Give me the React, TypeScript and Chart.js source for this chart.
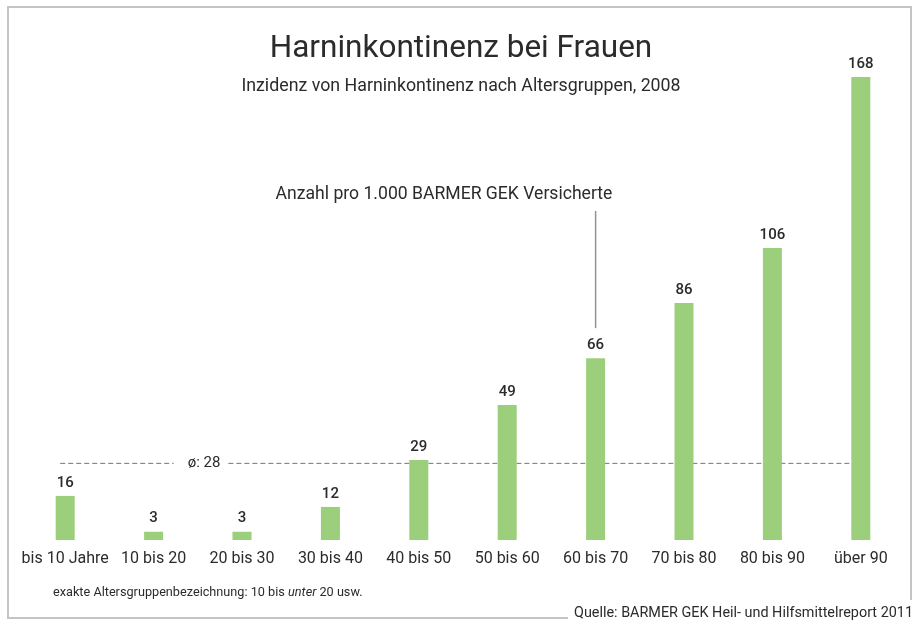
import React, { useEffect, useRef } from "react";
import { Chart, registerables } from "chart.js";

Chart.register(...registerables);

const categories = ["bis 10 Jahre", "10 bis 20", "20 bis 30", "30 bis 40", "40 bis 50", "50 bis 60", "60 bis 70", "70 bis 80", "80 bis 90", "über 90"];
const values = [16, 3, 3, 12, 29, 49, 66, 86, 106, 168];
const averageValue = 28;
const averageLabel = "ø: 28";
const titleText = "Harninkontinenz bei Frauen";
const subtitleText = "Inzidenz von Harninkontinenz nach Altersgruppen, 2008";
const annotationText = "Anzahl pro 1.000 BARMER GEK Versicherte";
const annotationIndex = 6;
const footnoteParts = ["exakte Altersgruppenbezeichnung: 10 bis ", "unter", " 20 usw."];
const sourceText = "Quelle: BARMER GEK Heil- und Hilfsmittelreport 2011";

const FONT = "Roboto, 'Open Sans', sans-serif";
const TEXT = "#2b2b2b";
const BAR = "#9ccf7c";
const FRAME = "#c4c4c4";
const DASH = "#667884";

const decorPlugin = {
  id: "decor",
  beforeDatasetsDraw(chart: any) {
    const ctx = chart.ctx;
    const y = chart.scales.y.getPixelForValue(averageValue);
    const x = chart.scales.x;
    const firstLeft = x.getPixelForValue(0) - 5;
    const lastBar = chart.getDatasetMeta(0).data[values.length - 1];
    ctx.save();
    ctx.strokeStyle = DASH;
    ctx.lineWidth = 1;
    ctx.setLineDash([5, 3]);
    ctx.font = `15px ${FONT}`;
    const tw = ctx.measureText(averageLabel).width;
    const cx = 204;
    ctx.beginPath();
    ctx.moveTo(firstLeft, y + 0.5);
    ctx.lineTo(cx - tw / 2 - 14, y + 0.5);
    ctx.moveTo(cx + tw / 2 + 8, y + 0.5);
    ctx.lineTo(lastBar.x - lastBar.width / 2, y + 0.5);
    ctx.stroke();
    ctx.setLineDash([]);
    ctx.fillStyle = TEXT;
    ctx.textAlign = "center";
    ctx.textBaseline = "middle";
    ctx.fillText(averageLabel, cx, y);
    ctx.restore();
  },
  afterDatasetsDraw(chart: any) {
    const ctx = chart.ctx;
    const meta = chart.getDatasetMeta(0);
    ctx.save();
    ctx.fillStyle = TEXT;
    ctx.textAlign = "center";
    ctx.textBaseline = "middle";
    ctx.font = `500 15px ${FONT}`;
    meta.data.forEach((el: any, i: number) => {
      ctx.fillText(String(values[i]), el.x, el.y - 13);
    });
    // titles
    ctx.font = `400 31.5px ${FONT}`;
    ctx.fillText(titleText, 461, 49);
    ctx.font = `400 17.8px ${FONT}`;
    ctx.fillText(subtitleText, 461, 87);
    // annotation
    ctx.font = `400 17.6px ${FONT}`;
    ctx.fillText(annotationText, 444, 195);
    const ael = meta.data[annotationIndex];
    ctx.strokeStyle = "#8a949c";
    ctx.lineWidth = 1.5;
    ctx.beginPath();
    ctx.moveTo(ael.x, 211);
    ctx.lineTo(ael.x, ael.y - 30);
    ctx.stroke();
    // footnote
    ctx.textAlign = "left";
    let fx = 53;
    footnoteParts.forEach((p, i) => {
      ctx.font = i === 1 ? `italic 400 12.7px ${FONT}` : `400 12.7px ${FONT}`;
      ctx.fillText(p, fx, 593);
      fx += ctx.measureText(p).width;
    });
    // source
    ctx.font = `400 14.4px ${FONT}`;
    ctx.textAlign = "right";
    ctx.fillText(sourceText, 913, 613);
    const sw = ctx.measureText(sourceText).width;
    // frame
    ctx.strokeStyle = FRAME;
    ctx.lineWidth = 2;
    ctx.beginPath();
    ctx.moveTo(911, 600);
    ctx.lineTo(911, 7);
    ctx.lineTo(8, 7);
    ctx.lineTo(8, 618);
    ctx.lineTo(913 - sw - 6, 618);
    ctx.stroke();
    ctx.restore();
  },
};

export default function App() {
  const ref = useRef<HTMLCanvasElement>(null);
  useEffect(() => {
    const chart = new Chart(ref.current!, {
      type: "bar",
      data: {
        labels: categories,
        datasets: [
          {
            data: values,
            backgroundColor: BAR,
            borderWidth: 0,
            barPercentage: 0.215,
            categoryPercentage: 1,
          },
        ],
      },
      options: {
        animation: false,
        responsive: false,
        maintainAspectRatio: false,
        layout: { padding: { top: 44, left: 21, right: 12, bottom: 0 } },
        plugins: { legend: { display: false }, tooltip: { enabled: false }, title: { display: false } },
        scales: {
          x: {
            grid: { display: false, drawTicks: false },
            border: { display: false },
            ticks: { color: TEXT, font: { family: FONT, size: 16 }, padding: 9, maxRotation: 0, autoSkip: false },
            afterFit: (s: any) => {
              s.height = 83;
            },
          },
          y: { display: false, min: 0, max: 180 },
        },
      },
      plugins: [decorPlugin],
    });
    return () => chart.destroy();
  }, []);
  return (
    <div style={{ position: "fixed", left: 0, top: 0, width: 917, height: 623, background: "#fff" }}>
      <canvas ref={ref} width={917} height={623} style={{ width: 917, height: 623 }} />
    </div>
  );
}
